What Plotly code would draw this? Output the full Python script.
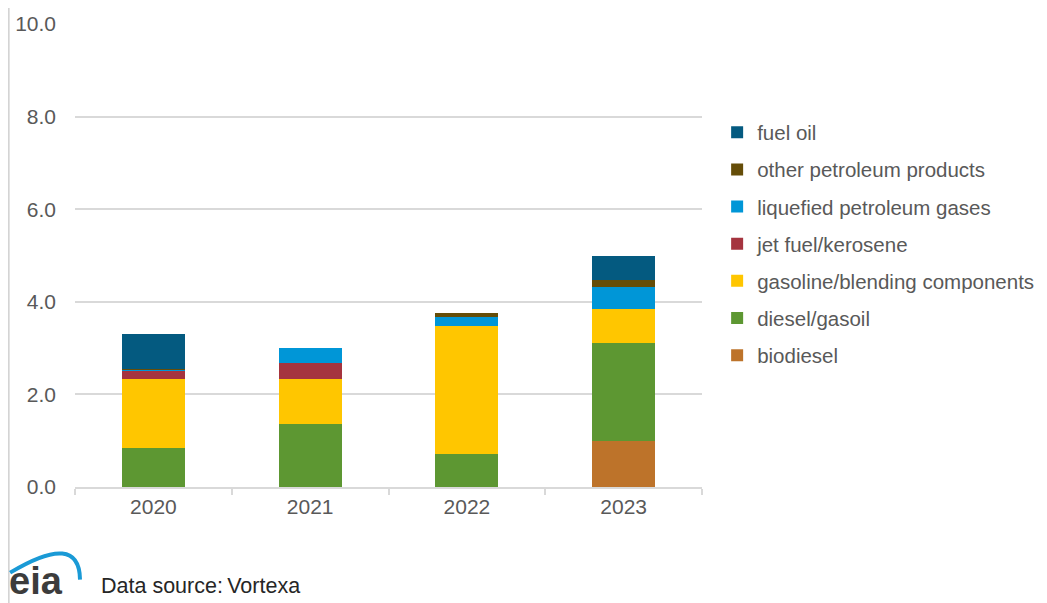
import plotly.graph_objects as go

years = ["2020", "2021", "2022", "2023"]
biodiesel = [0.0, 0.0, 0.0, 0.99]
diesel = [0.85, 1.36, 0.72, 2.13]
gasoline = [1.49, 0.98, 2.75, 0.72]
jet_fuel = [0.17, 0.34, 0.0, 0.0]
lpg = [0.02, 0.32, 0.21, 0.48]
other = [0.02, 0.0, 0.08, 0.16]
fuel_oil = [0.75, 0.0, 0.0, 0.51]

series = [
    ("biodiesel", biodiesel, "#BD732A"),
    ("diesel/gasoil", diesel, "#5D9732"),
    ("gasoline/blending components", gasoline, "#FFC600"),
    ("jet fuel/kerosene", jet_fuel, "#A5343F"),
    ("liquefied petroleum gases", lpg, "#0096D7"),
    ("other petroleum products", other, "#654D08"),
    ("fuel oil", fuel_oil, "#045A80"),
]

fig = go.Figure()
n = len(series)
for i, (name, vals, col) in enumerate(series):
    fig.add_trace(go.Bar(x=years, y=vals, name=name, marker_color=col,
                         marker_line_width=0, legendgroup=name, legendrank=n - i))

font_color = "#595959"
FONT = "Liberation Sans, Arial"
fig.update_layout(
    width=1047, height=603,
    barmode="stack", bargap=0.598,
    paper_bgcolor="white", plot_bgcolor="white",
    margin=dict(l=67, r=353, t=16, b=124),
    font=dict(family=FONT, size=21, color=font_color),
    legend=dict(traceorder="grouped", xref="container", x=0.6773, y=0.809,
                xanchor="left", yanchor="top",
                tracegroupgap=7.5, font=dict(size=20.5, color=font_color),
                itemwidth=30),
    showlegend=True,
)
fig.update_yaxes(range=[0, 10], dtick=2, tickformat=".1f", showgrid=True,
                 gridcolor="#D9D9D9", gridwidth=1.5, zeroline=False, showline=False,
                 ticks="", ticklabelstandoff=18, automargin=False)
fig.update_xaxes(showline=True, linecolor="#D9D9D9", linewidth=1.5, ticks="outside",
                 tickson="boundaries", tickcolor="#D9D9D9", ticklen=6, tickwidth=1.5,
                 showgrid=False, automargin=False)

# left border line
fig.add_shape(type="line", xref="paper", yref="paper", x0=-0.1055, x1=-0.1055, y0=-0.27, y1=1.04,
              line=dict(color="#D0D0D0", width=1.5))
# eia logo approximation
fig.add_annotation(xref="paper", yref="paper", x=-0.108, y=-0.252, xanchor="left", yanchor="bottom",
                   text="<b>eia</b>", showarrow=False,
                   font=dict(family=FONT, size=38, color="#3C3C3C"))
fig.add_shape(type="path", xref="paper", yref="paper",
              path="M -0.1035 -0.185 Q 0.007 -0.095 0.008 -0.200",
              line=dict(color="#1A9AD6", width=4))
fig.add_annotation(xref="paper", yref="paper", x=0.038, y=-0.214, xanchor="left", yanchor="middle",
                   text="Data source:\u2009Vortexa", showarrow=False,
                   font=dict(family=FONT, size=21.5, color="#262626"))

fig.write_html("out.html")
